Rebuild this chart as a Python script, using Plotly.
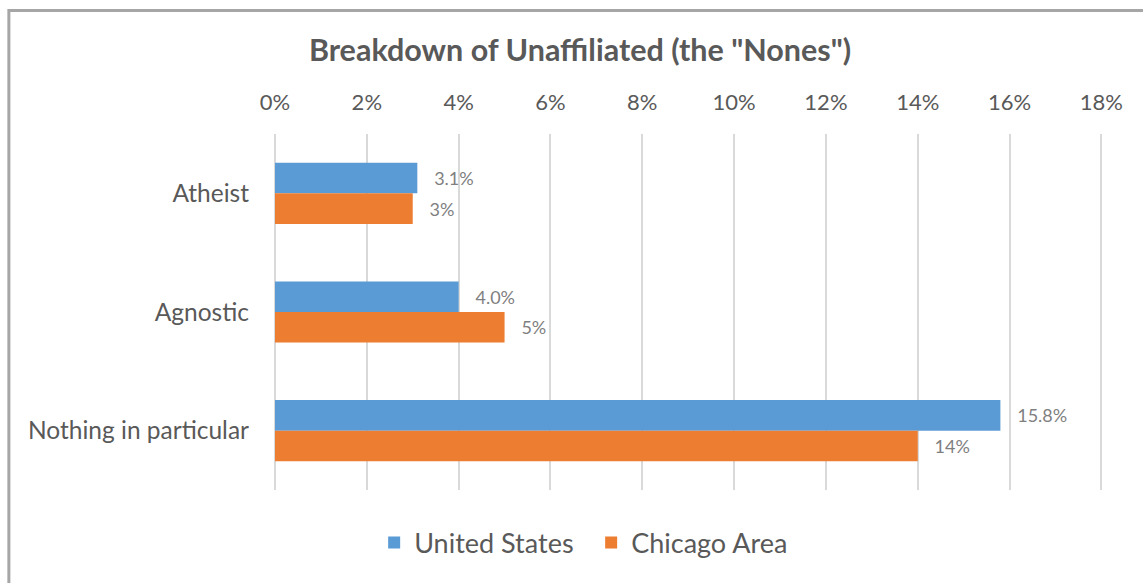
import plotly.graph_objects as go

categories = ["Atheist", "Agnostic", "Nothing in particular"]
us_values = [3.1, 4.0, 15.8]
chicago_values = [3, 5, 14]
us_labels = ["3.1%", "4.0%", "15.8%"]
chicago_labels = ["3%", "5%", "14%"]
series_names = ["United States", "Chicago Area"]
tick_values = [0, 2, 4, 6, 8, 10, 12, 14, 16, 18]
tick_labels = ["0%", "2%", "4%", "6%", "8%", "10%", "12%", "14%", "16%", "18%"]

W, H = 1143, 583
AXIS_MAX = 18.1
L, T, B = 275, 134, 93
R = W - L - 826 * AXIS_MAX / 18
pw, ph = W - L - R, H - T - B

FONT = "Lato"
pad = "\u00a0\u00a0\u00a0"

fig = go.Figure()
fig.add_trace(go.Bar(
    y=categories, x=us_values, name=series_names[0], orientation="h",
    marker=dict(color="#5B9BD5", line=dict(width=0)),
    text=[pad + t for t in us_labels], textposition="outside",
    textfont=dict(family=FONT, size=18, color="#7F7F7F"),
    cliponaxis=False, hoverinfo="skip",
))
fig.add_trace(go.Bar(
    y=categories, x=chicago_values, name=series_names[1], orientation="h",
    marker=dict(color="#ED7D31", line=dict(width=0)),
    text=[pad + t for t in chicago_labels], textposition="outside",
    textfont=dict(family=FONT, size=18, color="#7F7F7F"),
    cliponaxis=False, hoverinfo="skip",
))

def px_x(p):
    return (p - L) / pw

def px_y(p):
    return (H - B - p) / ph

fig.update_layout(
    width=W, height=H,
    margin=dict(l=L, r=R, t=T, b=B, autoexpand=False),
    paper_bgcolor="white", plot_bgcolor="white",
    barmode="group", bargap=0.485, bargroupgap=0,
    font=dict(family=FONT, color="#595959"),
    title=dict(
        text='<b>Breakdown of Unaffiliated (the "Nones")</b>',
        x=580 / W, xanchor="center", y=1 - 50 / H, yanchor="middle",
        font=dict(family=FONT, size=30.5, color="#595959"),
    ),
    xaxis=dict(
        side="top", range=[0, AXIS_MAX], tickvals=tick_values, ticktext=tick_labels,
        showgrid=True, gridcolor="#D9D9D9", gridwidth=2,
        zeroline=True, zerolinecolor="#D9D9D9", zerolinewidth=2,
        showline=False, ticks="", tickfont=dict(family=FONT, size=22, color="#595959"),
        ticklabelstandoff=19, fixedrange=True,
    ),
    yaxis=dict(
        autorange="reversed", showgrid=False, zeroline=False, showline=False,
        ticks="", tickfont=dict(family=FONT, size=24.5, color="#595959"),
        ticklabelstandoff=25, fixedrange=True,
    ),
    legend=dict(
        orientation="h", x=px_x(591), xanchor="center", y=px_y(543), yanchor="middle",
        font=dict(family=FONT, size=27, color="#595959"), traceorder="normal",
        itemwidth=30, entrywidth=172, entrywidthmode="pixels",
    ),
    hovermode=False,
    shapes=[dict(
        type="rect", xref="paper", yref="paper",
        x0=px_x(9), x1=px_x(1160), y0=px_y(600), y1=px_y(10.5),
        line=dict(color="#A6A6A6", width=3), fillcolor="rgba(0,0,0,0)", layer="below",
    )],
)

fig.write_html(
    "out.html",
    config={"displayModeBar": False, "staticPlot": True},
    post_script="document.body.style.margin='0';document.body.style.padding='0';document.documentElement.style.overflow='hidden';",
)
